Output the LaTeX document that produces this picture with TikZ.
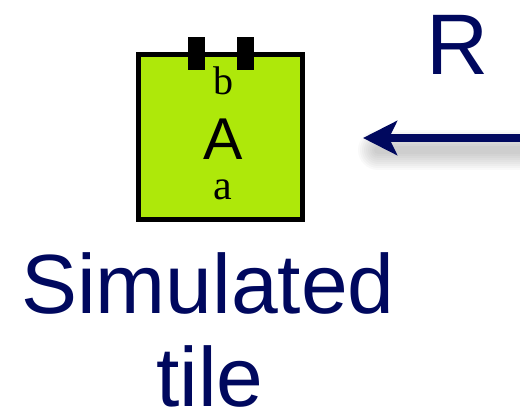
\documentclass[tikz,border=0pt]{standalone}
\usepackage{fontspec}
\setmainfont{Liberation Serif}
\setsansfont{Liberation Sans}
\usetikzlibrary{arrows.meta}
\definecolor{navy}{RGB}{0,8,94}
\definecolor{tilegreen}{RGB}{174,232,10}
\tikzset{
  bigsans/.style={font=\sffamily\fontsize{84}{96}\selectfont, text=navy, inner sep=0pt, anchor=base},
  tiletext/.style={inner sep=0pt, anchor=base, text=black},
  tab/.style={fill=black, draw=none},
}
\begin{document}
\begin{tikzpicture}[x=1pt,y=-1pt]
\useasboundingbox (0,0) rectangle (520,417);
% tile
\node[draw=black, line width=5pt, fill=tilegreen, minimum width=164pt, minimum height=165pt, inner sep=0pt] (tile) at (220.5,137) {};
\fill[black] (188,37) rectangle (205,70);
\fill[black] (237,37) rectangle (254,70);
\node[tiletext, font=\fontsize{40}{40}\selectfont] (b) at (223,95) {b};
\node[tiletext, font=\sffamily\fontsize{59}{59}\selectfont] (A) at (223,160) {A};
\node[tiletext, font=\fontsize{42}{42}\selectfont] (a) at (223,200) {a};
% R
\node[bigsans, font=\sffamily\fontsize{86}{96}\selectfont] (R) at (458,75) {R};
% arrow shadow
\coordinate (rin) at (520,138);
\coordinate (rout) at (363,138);
\foreach \w in {40,36,32,28,24,20,16,12,8}{
  \draw[line width=\w pt, black, opacity=0.025, line cap=round] (378,150) -- (530,150);
}
\draw[line width=8pt, navy, -{Stealth[length=34pt,width=34pt,inset=8pt]}] (rin) -- (rout);
% caption
\node[bigsans] (sim) at (208,313) {Simulated};
\node[bigsans] (tl) at (210,406) {tile};
\end{tikzpicture}
\end{document}
